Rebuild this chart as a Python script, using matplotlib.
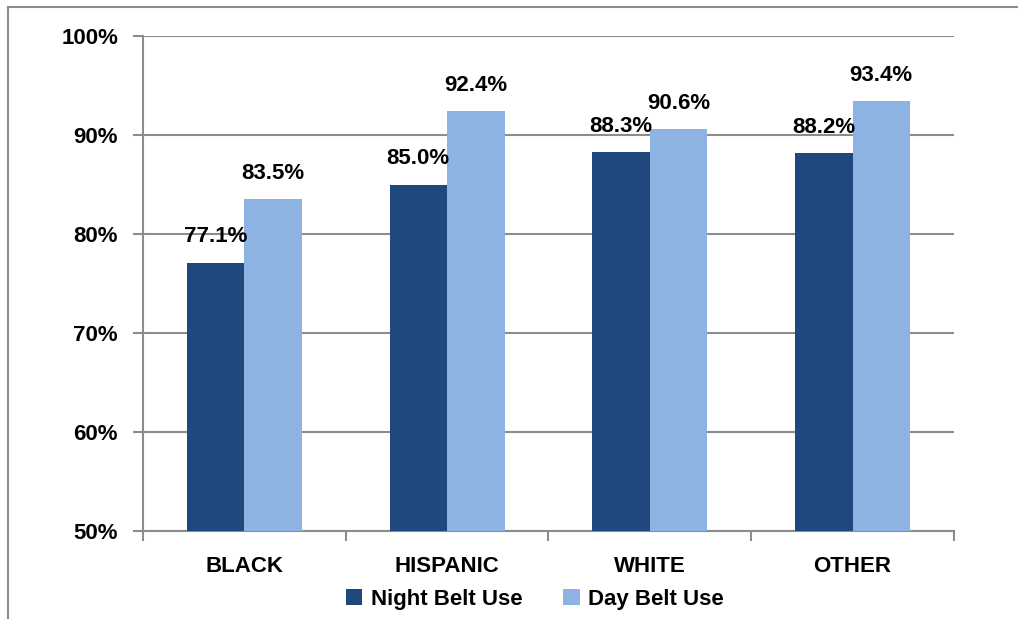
import numpy as np
import matplotlib
matplotlib.use('Agg')
import matplotlib.pyplot as plt
from matplotlib.lines import Line2D

plt.rcParams['font.family'] = ['Liberation Sans', 'DejaVu Sans']
plt.rcParams['font.weight'] = 'bold'
FS = 16

categories = ['BLACK', 'HISPANIC', 'WHITE', 'OTHER']
night_use = [77.1, 85.0, 88.3, 88.2]
day_use = [83.5, 92.4, 90.6, 93.4]
yticks = [50, 60, 70, 80, 90, 100]

night_color = '#1F497D'
day_color = '#8DB3E2'
grid_color = '#8C8C8C'

fig = plt.figure(figsize=(10.18, 6.19), dpi=100)
ax = fig.add_axes([0.1405, 0.1422, 0.7965, 0.7996])

x = np.arange(len(categories))
w = 0.284
b1 = ax.bar(x - w / 2, night_use, w, color=night_color, label='Night Belt Use', zorder=3)
b2 = ax.bar(x + w / 2, day_use, w, color=day_color, label='Day Belt Use', zorder=3)

for bars, vals in [(b1, night_use), (b2, day_use)]:
    for rect, v in zip(bars, vals):
        ax.annotate('%.1f%%' % v, (rect.get_x() + rect.get_width() / 2, v),
                    xytext=(0, 11), textcoords='offset points',
                    ha='center', va='bottom', fontsize=FS, fontweight='bold', zorder=4)

ax.set_ylim(50, 100)
ax.set_yticks(yticks)
ax.set_yticklabels(['%d%%' % t for t in yticks])
ax.set_xlim(-0.5, len(categories) - 0.5)
ax.set_xticks(x)
ax.set_xticklabels(categories)
ax.set_xticks(np.arange(len(categories) + 1) - 0.5, minor=True)
ax.tick_params(axis='x', which='major', length=0, pad=18, labelsize=FS)
ax.tick_params(axis='x', which='minor', length=7, width=1.5, color=grid_color, direction='out')
ax.tick_params(axis='y', length=7, width=1.5, color=grid_color, labelsize=FS, pad=11)

ax.yaxis.grid(True, color=grid_color, linewidth=1.5, zorder=0)
ax.set_axisbelow(True)
for s in ['top', 'right']:
    ax.spines[s].set_visible(False)
for s in ['left', 'bottom']:
    ax.spines[s].set_color(grid_color)
    ax.spines[s].set_linewidth(1.5)

fig.legend(handles=[b1, b2], loc='center', bbox_to_anchor=(535 / 1018, 1 - 599 / 619),
           ncol=2, frameon=False, fontsize=FS, handlelength=0.75, handleheight=0.75,
           handletextpad=0.4, columnspacing=1.8)

# outer frame (only left and top edges visible)
fig.add_artist(Line2D([8 / 1018, 8 / 1018], [0, 1 - 7 / 619], transform=fig.transFigure,
                      color=grid_color, linewidth=1.5))
fig.add_artist(Line2D([8 / 1018, 1], [1 - 7 / 619, 1 - 7 / 619], transform=fig.transFigure,
                      color=grid_color, linewidth=1.5))

fig.savefig('out.png', dpi=100)
